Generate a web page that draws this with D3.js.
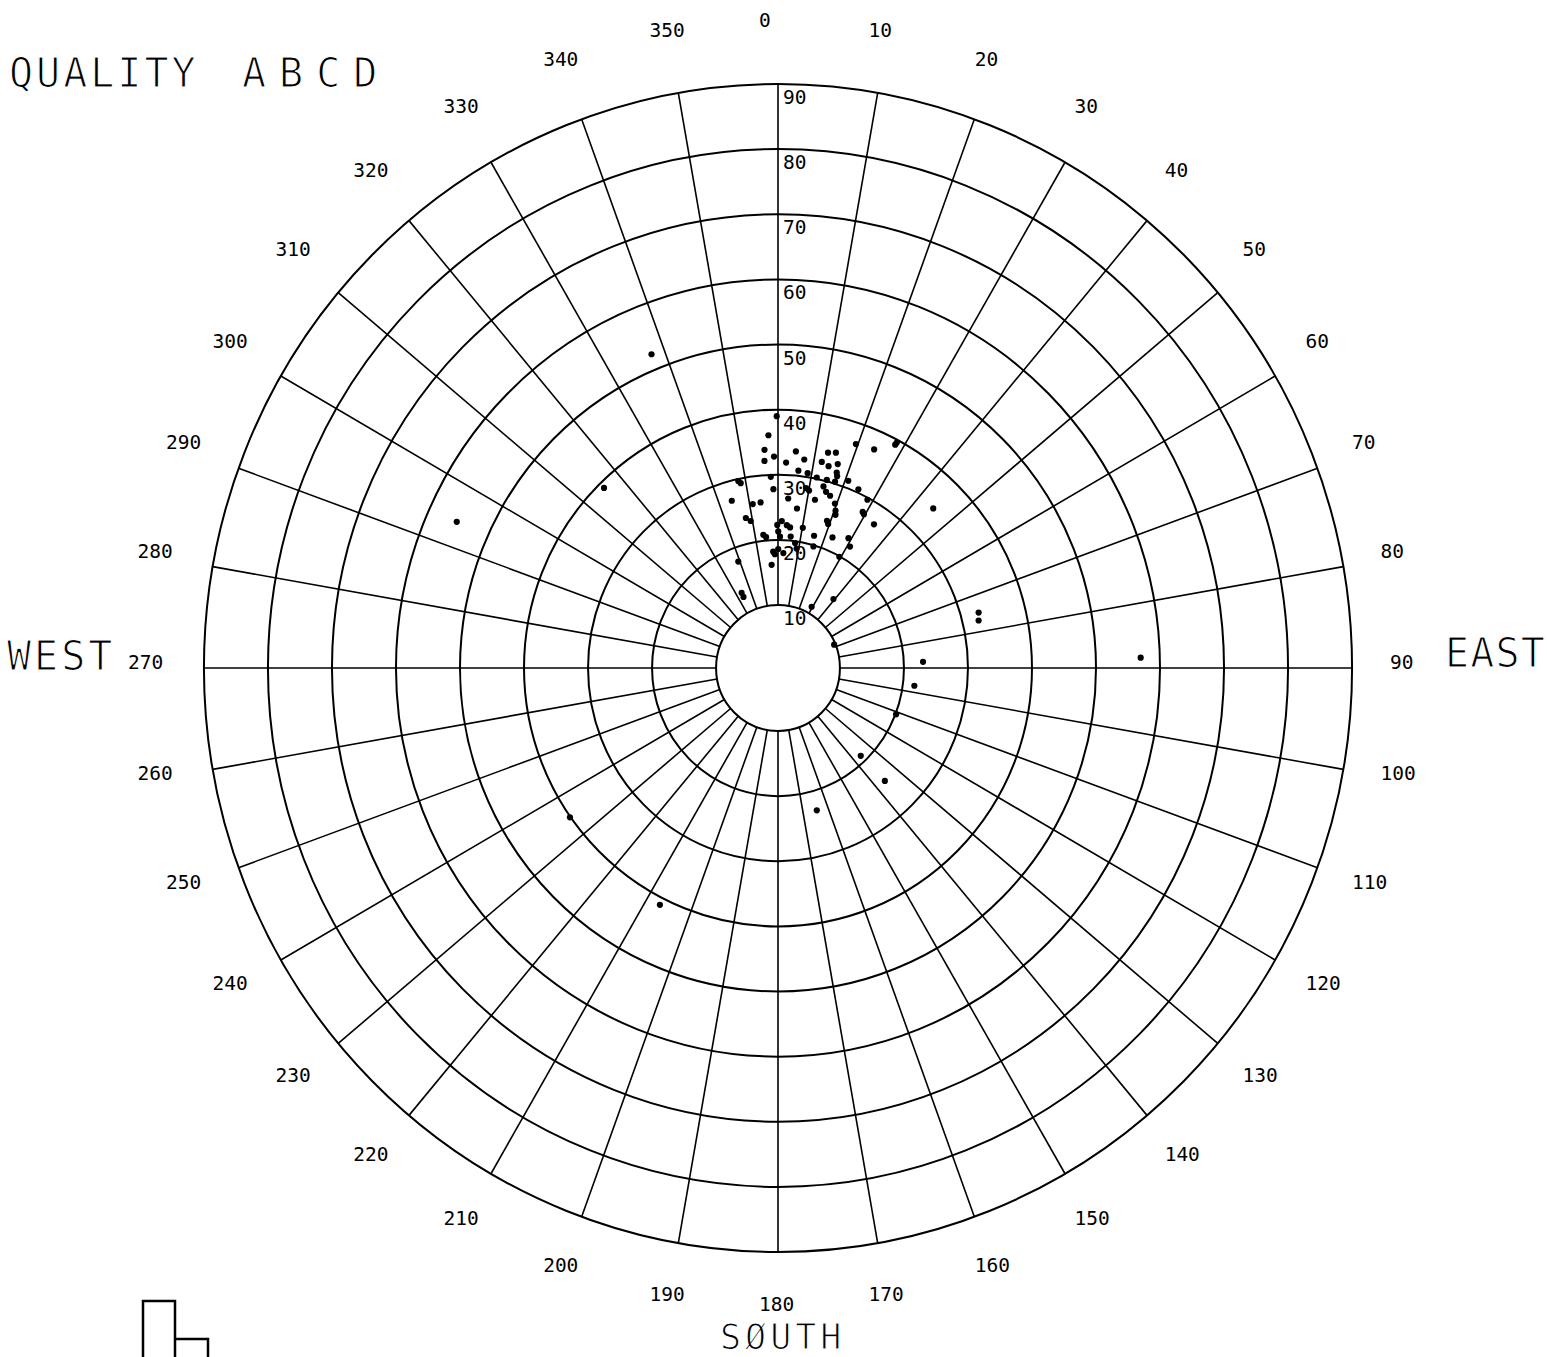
<!DOCTYPE html>
<html>
<head>
<meta charset="utf-8">
<script src="https://cdn.jsdelivr.net/npm/d3@7"></script>
<style>
	body { margin: 0; background: #fff; }
	.lbl { font-family: "DejaVu Sans Mono", monospace; font-size: 19.5px; fill: #000; }
	.big { font-family: "DejaVu Sans Mono", monospace; font-size: 40px; fill: #000; stroke: #fff; stroke-width: 1.2px; }
</style>
</head>
<body>
<div id="polarPlot"></div>
<script>
//data: azimuth (degrees clockwise from north) and ring value of every dot
const azimuths = [359.7, 357.6, 356.4, 358.9, 356.2, 4.8, 7.3, 2.3, 6.0, 357.8,
	8.8, 347.8, 348.4, 358.5, 3.5, 9.0, 10.1, 12.6, 12.2, 14.3,
	13.3, 15.3, 16.6, 17.0, 17.4, 11.7, 14.3, 15.5, 17.1, 344.3,
	351.1, 353.9, 6.9, 19.4, 20.4, 20.9, 347.7, 349.3, 1.5, 3.6,
	5.0, 359.7, 10.2, 18.7, 19.5, 353.6, 354.7, 0.1, 0.9, 5.6,
	15.5, 23.0, 28.9, 31.1, 357.6, 358.4, 0.1, 2.7, 16.5, 339.2,
	356.4, 7.9, 9.0, 19.5, 24.1, 28.1, 28.2, 14.8, 17.3, 20.9,
	24.6, 28.4, 28.9, 29.6, 44.7, 34.2, 29.3, 333.8, 333.7, 29.2,
	39.3, 67.8, 74.8, 76.9, 88.4, 87.6, 97.3, 111.1, 136.2, 136.1,
	164.5, 337.7, 315.5, 294.1, 234.8, 206.9];
const values = [39.0, 36.1, 33.9, 32.8, 32.2, 33.7, 32.6, 31.9, 30.8, 29.7,
	30.6, 29.7, 29.3, 27.8, 26.4, 28.3, 28.0, 26.8, 32.7, 32.3,
	34.3, 34.6, 33.0, 31.7, 31.2, 30.2, 29.1, 28.4, 28.0, 27.0,
	25.8, 25.9, 25.0, 27.1, 26.1, 25.5, 23.9, 23.3, 22.9, 22.3,
	22.0, 22.3, 22.2, 24.2, 23.8, 20.9, 20.5, 21.3, 20.5, 20.6,
	21.4, 22.1, 23.1, 22.1, 18.2, 17.8, 18.6, 18.0, 19.8, 17.8,
	16.2, 19.7, 18.9, 36.8, 37.1, 39.2, 39.6, 30.2, 30.3, 31.1,
	30.5, 29.7, 27.7, 27.5, 34.8, 27.0, 19.9, 13.2, 12.5, 11.1,
	14.0, 9.8, 32.8, 32.5, 57.0, 23.0, 21.8, 20.1, 19.0, 24.4,
	23.0, 52.4, 39.1, 55.3, 40.1, 41.1];

//rings and spokes of the grid, and the labels round the outside
const ringValues = [10, 20, 30, 40, 50, 60, 70, 80, 90];
const spokeAngles = [0, 10, 20, 30, 40, 50, 60, 70, 80, 90, 100, 110, 120, 130, 140, 150, 160, 170,
	180, 190, 200, 210, 220, 230, 240, 250, 260, 270, 280, 290, 300, 310, 320, 330, 340, 350];

//constants: center of the plot, x squash of the (slightly elliptic) plot
const width = 1547, height = 1357,
	  cx = 778, cy = 668,
	  kx = 0.983;

const r = d3.scaleLinear().domain([10, 90]).range([63, 584]);
const ang = d3.scaleLinear().domain([0, 360]).range([0, 2 * Math.PI]);

function px(a, v) { return cx + r(v) * Math.sin(ang(a)) * kx; }
function py(a, v) { return cy - r(v) * Math.cos(ang(a)); }

var svg = d3.select("#polarPlot")
	.append("svg")
	.attr("width", width)
	.attr("height", height);

svg.append("rect").attr("width", width).attr("height", height).attr("fill", "#fff");

//ring ellipses
svg.selectAll(".ring")
	.data(ringValues)
	.enter()
	.append("ellipse")
	.attr("class", "ring")
	.attr("cx", cx).attr("cy", cy)
	.attr("rx", function(d) { return r(d) * kx })
	.attr("ry", function(d) { return r(d) })
	.attr("fill", "none")
	.attr("stroke", "#000")
	.attr("stroke-width", 2);

//spokes from the inner ring to the outer ring
svg.selectAll(".spoke")
	.data(spokeAngles)
	.enter()
	.append("line")
	.attr("class", "spoke")
	.attr("x1", function(d) { return px(d, 10) })
	.attr("y1", function(d) { return py(d, 10) })
	.attr("x2", function(d) { return px(d, 90) })
	.attr("y2", function(d) { return py(d, 90) })
	.attr("stroke", "#000")
	.attr("stroke-width", 1.6);

//ring value labels just under each ring, right of the north spoke
svg.selectAll(".ringLabel")
	.data(ringValues)
	.enter()
	.append("text")
	.attr("class", "lbl")
	.attr("x", cx + 5)
	.attr("y", function(d) { return py(0, d) + 20 })
	.text(function(d) { return d });

//azimuth labels round the outside: the plotter put each text's lower-left corner on a ring,
//which is why the labels drift a bit left of the spokes
const labelR = 642;
svg.selectAll(".azLabel")
	.data(spokeAngles)
	.enter()
	.append("text")
	.attr("class", "lbl")
	.attr("x", function(d) { return (cx - 19) + labelR * kx * Math.sin(ang(d)) })
	.attr("y", function(d) { return (cy + 1) - labelR * Math.cos(ang(d)) })
	.text(function(d) { return d });

//the dots
svg.selectAll(".dot")
	.data(d3.range(azimuths.length))
	.enter()
	.append("circle")
	.attr("class", "dot")
	.attr("cx", function(i) { return px(azimuths[i], values[i]) })
	.attr("cy", function(i) { return py(azimuths[i], values[i]) })
	.attr("r", 3.1)
	.attr("fill", "#000");

//big captions
function caption(x, y, txt, spacing, size) {
	svg.append("text").attr("class", "big")
		.attr("x", x).attr("y", y)
		.style("letter-spacing", spacing + "px")
		.style("font-size", (size || 40) + "px")
		.text(txt);
}
caption(9, 87, "QUALITY", 3);
caption(242, 87, "ABCD", 13);
caption(7, 670, "WEST", 3);
caption(1445, 667, "EAST", 1.2);
caption(720, 1348.5, "SØUTH", 4, 35);

//little box mark in the lower left corner
svg.append("path")
	.attr("d", "M143,1357 V1301 H175 V1357 M175,1339 H208 V1357")
	.attr("fill", "none")
	.attr("stroke", "#000")
	.attr("stroke-width", 2.5);
</script>
</body>
</html>
